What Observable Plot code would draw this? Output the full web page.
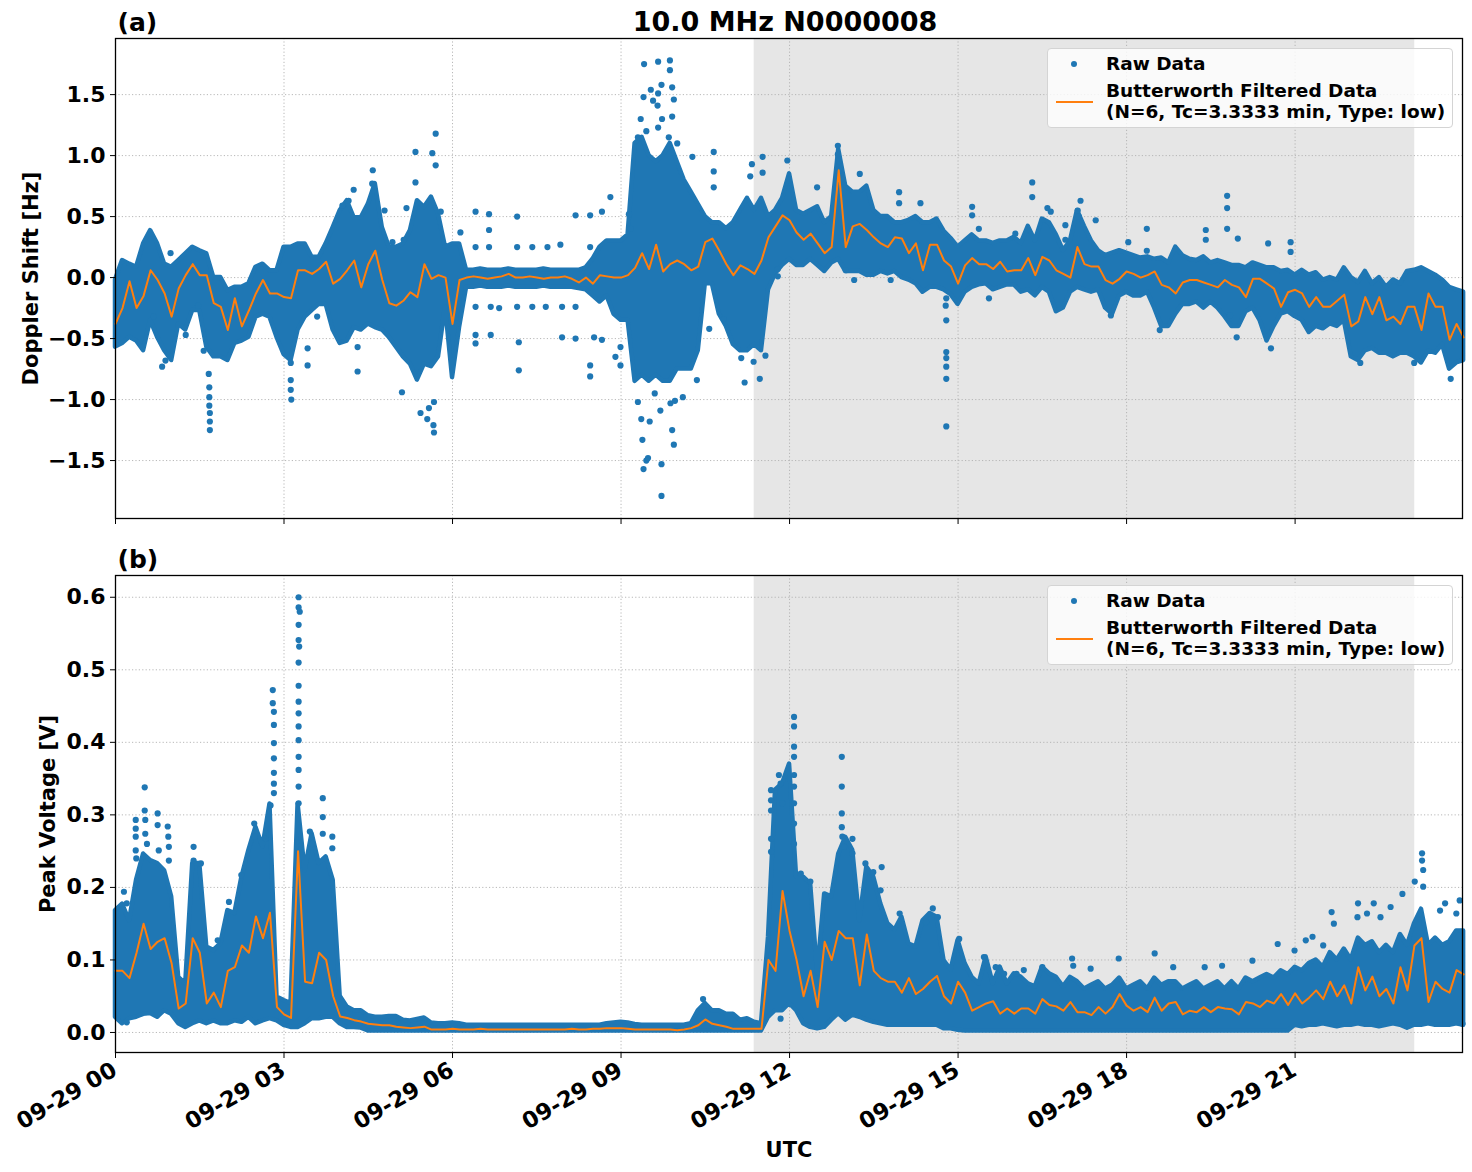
<!DOCTYPE html>
<html><head><meta charset="utf-8">
<script src="https://cdn.jsdelivr.net/npm/d3@7"></script>
<script src="https://cdn.jsdelivr.net/npm/@observablehq/plot@0.6"></script>
<style>
body{margin:0;background:#fff;font-family:"DejaVu Sans",sans-serif;}
#wrap{position:relative;width:1472px;height:1172px;overflow:hidden;}
#pa{position:absolute;left:0;top:0}
#pb{position:absolute;left:0;top:540px}
.legend{position:absolute;left:1047px;width:406px;height:80px;box-sizing:border-box;border:1px solid #d4d4d4;border-radius:4px;background:rgba(255,255,255,0.8);font-weight:bold;font-size:18.5px;color:#000;}
.legend span{position:absolute;left:58px;white-space:nowrap;line-height:21px;}
.legend .dot{position:absolute;left:23px;top:12px;width:6px;height:6px;border-radius:50%;background:#1f77b4;}
.legend .ln{position:absolute;left:8px;top:52px;width:37px;height:2px;background:#ff7f0e;}
</style></head>
<body><div id="wrap"><div id="pa"></div><div id="pb"></div>
<div class="legend" style="top:48px"><div class="dot"></div><span style="top:4px">Raw Data</span><div class="ln"></div><span style="top:31px">Butterworth Filtered Data</span><span style="top:52px">(N=6, Tc=3.3333 min, Type: low)</span></div>
<div class="legend" style="top:585px"><div class="dot"></div><span style="top:4px">Raw Data</span><div class="ln"></div><span style="top:31px">Butterworth Filtered Data</span><span style="top:52px">(N=6, Tc=3.3333 min, Type: low)</span></div>
</div>
<script>
// ---- time grid (hours since 09-29 00 UTC), every series sampled every 7.5 min ----
const STEP = 0.125;
const xTicks = [0, 3, 6, 9, 12, 15, 18, 21];
const xTickLabels = ["09-29 00","09-29 03","09-29 06","09-29 09","09-29 12","09-29 15","09-29 18","09-29 21"];
const shadeSpan = [11.37, 23.13];
const dopplerTicks = [-1.5, -1.0, -0.5, 0.0, 0.5, 1.0, 1.5];
const voltTicks = [0.0, 0.1, 0.2, 0.3, 0.4, 0.5, 0.6];

// ---- (a) Doppler shift [Hz] ----
const dopplerFiltered = [
-0.38,-0.25,-0.03,-0.25,-0.15,0.06,-0.02,-0.13,-0.32,-0.09,
0.02,0.11,0.02,0.02,-0.21,-0.24,-0.43,-0.17,-0.40,-0.27,
-0.13,-0.02,-0.13,-0.13,-0.16,-0.17,0.06,0.06,0.03,0.07,
0.13,-0.05,-0.01,0.06,0.14,-0.08,0.11,0.22,-0.02,-0.21,
-0.23,-0.19,-0.12,-0.16,0.11,-0.01,0.02,0.0,-0.38,-0.02,
0.0,0.01,0.0,-0.01,0.0,0.01,0.03,0.0,0.0,0.01,0.0,-0.01,0.0,0.0,0.01,-0.01,-0.04,0.0,-0.05,0.02,0.01,0.0,
0.0,0.02,0.08,0.20,0.07,0.27,0.05,0.11,
0.14,0.11,0.06,0.09,0.29,0.32,0.22,0.11,0.02,0.10,
0.07,0.03,0.14,0.33,0.42,0.51,0.47,0.37,0.31,0.36,
0.28,0.20,0.25,0.88,0.25,0.42,0.44,0.39,0.33,0.28,
0.25,0.33,0.32,0.20,0.28,0.06,0.27,0.27,0.14,0.09,
-0.05,0.10,0.16,0.11,0.11,0.07,0.13,0.05,0.06,0.06,
0.16,0.02,0.17,0.14,0.06,0.03,0.0,0.25,0.11,0.09,
0.09,-0.02,-0.05,-0.01,0.05,0.03,0.0,0.02,0.05,-0.06,
-0.08,-0.13,-0.04,-0.02,-0.02,-0.04,-0.06,-0.08,-0.02,-0.06,
-0.08,-0.16,-0.01,-0.01,-0.05,-0.09,-0.24,-0.12,-0.10,-0.13,
-0.24,-0.16,-0.24,-0.24,-0.19,-0.14,-0.40,-0.36,-0.16,-0.30,
-0.16,-0.35,-0.32,-0.38,-0.24,-0.24,-0.43,-0.13,-0.24,-0.24,
-0.51,-0.38,-0.49
];
const dopplerRawHigh = [
-0.02,0.14,0.11,0.085,0.276,0.385,0.276,0.11,0.085,0.14,
0.194,0.249,0.22,0.194,0.0,0.0,-0.107,-0.08,-0.08,-0.05,
0.085,0.11,0.057,0.057,0.249,0.249,0.276,0.276,0.167,0.167,
0.276,0.41,0.55,0.63,0.49,0.49,0.60,0.77,0.41,0.249,
0.249,0.276,0.385,0.63,0.576,0.66,0.52,0.249,0.276,0.276,
0.06,0.06,0.07,0.06,0.06,0.06,0.07,0.06,0.06,0.06,
0.06,0.07,0.06,0.06,0.06,0.06,0.06,0.08,0.15,0.25,
0.30,0.30,0.30,0.35,1.10,1.15,1.0,0.95,1.0,1.10,
0.95,0.80,0.70,0.60,0.50,0.45,0.45,0.40,0.45,0.55,
0.65,0.55,0.65,0.50,0.55,0.65,0.85,0.55,0.52,0.55,
0.58,0.45,0.50,1.05,0.75,0.70,0.70,0.75,0.55,0.50,
0.50,0.45,0.45,0.47,0.50,0.45,0.45,0.48,0.38,0.32,
0.25,0.30,0.35,0.30,0.30,0.28,0.30,0.30,0.33,0.28,
0.42,0.30,0.48,0.45,0.35,0.22,0.30,0.55,0.42,0.30,
0.22,0.18,0.20,0.22,0.20,0.18,0.16,0.17,0.15,0.16,
0.12,0.25,0.18,0.15,0.14,0.17,0.12,0.14,0.12,0.10,
0.10,0.08,0.12,0.10,0.08,0.08,0.05,0.06,0.02,0.06,
0.02,0.04,-0.02,0.0,-0.02,0.08,0.0,-0.04,0.05,-0.05,
0.0,-0.08,-0.02,-0.05,0.05,0.06,0.08,0.05,0.02,-0.02,
-0.08,-0.10,-0.12
];
const dopplerRawLow = [
-0.57,-0.54,-0.49,-0.52,-0.60,-0.35,-0.49,-0.60,-0.68,-0.38,
-0.43,-0.27,-0.27,-0.57,-0.65,-0.65,-0.68,-0.54,-0.52,-0.49,
-0.325,-0.30,-0.325,-0.49,-0.63,-0.68,-0.43,-0.325,-0.27,-0.22,
-0.22,-0.43,-0.54,-0.52,-0.41,-0.43,-0.38,-0.41,-0.43,-0.49,
-0.57,-0.65,-0.71,-0.84,-0.71,-0.73,-0.65,-0.24,-0.82,-0.41,
-0.08,-0.08,-0.07,-0.08,-0.08,-0.08,-0.07,-0.08,-0.08,-0.08,
-0.08,-0.07,-0.08,-0.08,-0.08,-0.08,-0.09,-0.10,-0.15,-0.20,
-0.15,-0.30,-0.35,-0.35,-0.85,-0.80,-0.85,-0.80,-0.85,-0.85,
-0.75,-0.75,-0.75,-0.60,-0.05,-0.05,-0.30,-0.40,-0.55,-0.60,
-0.60,-0.55,-0.60,-0.10,0.03,0.10,0.15,0.10,0.10,0.15,
0.10,0.05,0.12,0.15,0.05,0.05,0.05,0.02,0.02,0.05,
0.03,0.05,0.0,-0.02,-0.05,-0.12,-0.08,-0.08,-0.10,-0.14,
-0.22,-0.12,-0.08,-0.06,-0.05,-0.10,-0.08,-0.06,-0.06,-0.12,
-0.10,-0.15,-0.08,-0.12,-0.28,-0.25,-0.12,-0.08,-0.10,-0.12,
-0.10,-0.25,-0.30,-0.15,-0.12,-0.15,-0.15,-0.12,-0.25,-0.40,
-0.40,-0.30,-0.22,-0.22,-0.20,-0.25,-0.20,-0.25,-0.32,-0.40,
-0.40,-0.28,-0.25,-0.35,-0.52,-0.40,-0.30,-0.28,-0.32,-0.35,
-0.45,-0.40,-0.42,-0.38,-0.40,-0.35,-0.65,-0.68,-0.60,-0.58,
-0.62,-0.62,-0.65,-0.62,-0.62,-0.65,-0.70,-0.60,-0.62,-0.55,
-0.75,-0.70,-0.68
];
const dopplerRawSparse = [
[.83,-.73],[.89,-.68],[.98,.20],[.68,-.32],[1.25,-.47],[1.47,-.23],[1.57,-.60],[1.66,-.79],[1.67,-.98],[1.68,-1.11],[1.68,-1.25],[1.68,-1.18],[1.67,-1.05],[1.67,-.90],
[3.12,-.70],[3.12,-.84],[3.13,-1.0],[3.12,-.92],[3.42,-.58],[3.42,-.72],[3.59,-.32],[4.24,.72],[4.04,.59],[4.15,.63],[4.31,-.77],[4.31,-.57],[4.58,.88],[4.57,.77],[4.79,.55],[4.93,.29],[5.13,.31],[5.10,-.94],[5.18,.57],[5.34,1.03],[5.34,.78],[5.43,-1.11],[5.55,-1.16],[5.58,-1.07],[5.64,1.02],[5.66,-1.21],[5.67,-1.27],[5.70,1.18],[5.70,.92],[5.67,-1.02],[5.79,.54],
[6.14,.37],[6.08,-.38],[6.41,.54],[6.41,.25],[6.41,-.24],[6.41,-.47],[6.41,-.54],[6.65,.52],[6.65,.39],[6.65,.25],[6.68,-.24],[6.68,-.47],[6.83,-.25],[7.15,.50],[7.15,.25],[7.15,-.24],[7.18,-.53],[7.18,-.76],[7.42,.25],[7.42,-.24],[7.69,.25],[7.66,-.24],[7.92,.27],[7.95,-.24],[7.95,-.49],
[8.19,.51],[8.19,-.24],[8.19,-.50],[8.45,.51],[8.45,.25],[8.45,-.72],[8.45,-.81],[8.52,-.49],[8.66,.54],[8.66,-.51],[8.81,.66],[8.90,-.65],[8.99,-.72],[8.99,-.57],[9.14,.52],[9.17,.40],
[9.41,1.75],[9.66,1.77],[9.87,1.78],[9.87,1.70],[9.53,1.54],[9.66,1.51],[9.72,1.58],[9.91,1.56],[9.94,1.46],[9.40,1.48],[9.57,1.45],[9.65,1.41],[9.35,1.30],[9.73,1.30],[9.91,1.32],[9.66,1.23],[9.30,1.15],[9.45,1.20],[9.85,1.15],[10.0,1.10],
[9.30,-1.02],[9.38,-1.33],[9.40,-1.57],[9.45,-1.50],[9.36,-1.16],[9.51,-1.18],[9.48,-1.48],[9.72,-1.53],[9.72,-1.79],[9.91,-1.25],[9.94,-1.37],[9.88,-1.03],[9.70,-1.09],[9.96,-1.01],[10.10,-.98],[9.60,-.95],
[10.27,.99],[10.65,1.03],[10.65,.87],[10.65,.74],[10.35,-.84],[10.57,-.42],[10.83,-.34],[11.20,-.86],[11.33,.93],[11.30,.83],[11.52,.99],[11.52,.86],[11.47,-.83],[11.14,-.66],[11.36,-.69],[11.57,-.64],[11.79,.07],[11.79,.01],[11.96,.96],[12.49,.74],[13.00,.06],[13.15,-.02],[13.25,.85],[13.80,-.02],[13.95,.70],[13.95,.61],[14.33,.61],
[12.86,1.08],[12.86,1.01],[12.87,.95],[12.88,.86],[12.85,.78],
[14.79,-.17],[14.78,-.23],[14.79,-.35],[14.79,-.61],[14.79,-.66],[14.79,-.73],[14.79,-.83],[14.79,-1.22],[15.25,.58],[15.25,.51],[15.37,.40],[15.55,-.17],[16.02,.36],
[16.32,.78],[16.32,.66],[16.59,.57],[16.65,.54],[16.91,.43],[16.91,.31],[17.18,.63],[17.45,.47],[18.03,.29],[18.36,.40],[18.36,.22],[19.41,.39],[19.41,.31],[19.79,.67],[19.79,.57],[19.79,.40],[19.98,.32],[20.52,.28],[20.92,.29],[20.92,.21],[18.59,-.43],[19.84,-.31],[19.96,-.49],[20.57,-.58],[17.72,-.31],[22.16,-.70],[23.77,-.83],[23.12,-.70],[17.13,.55],[17.15,.50]
];

// ---- (b) Peak voltage [V] ----
const voltFiltered = [
.085,.085,.075,.11,.15,.115,.125,.13,.095,.033,
.04,.13,.11,.04,.055,.035,.085,.09,.12,.11,
.16,.13,.165,.035,.025,.02,.25,.07,.068,.11,
.10,.05,.022,.02,.017,.015,.012,.011,.01,.01,
.008,.007,.006,.007,.008,.004,.004,.004,.005,.004,
.004,.004,.005,.004,.004,.004,.004,.004,.004,.004,.004,.004,.004,.004,.004,.005,.004,.004,.005,.005,.006,.006,
.006,.005,.004,.004,.004,.004,.004,.004,
.003,.004,.006,.01,.018,.012,.01,.008,.005,.005,
.005,.005,.005,.10,.085,.195,.14,.10,.05,.085,
.035,.125,.10,.14,.13,.13,.065,.135,.085,.075,
.07,.07,.055,.075,.053,.06,.07,.078,.05,.04,
.07,.055,.03,.035,.04,.043,.026,.033,.026,.033,
.033,.026,.046,.038,.036,.03,.042,.028,.028,.024,
.035,.026,.035,.053,.037,.03,.035,.028,.048,.03,
.04,.042,.025,.03,.028,.035,.028,.035,.033,.032,
.025,.042,.04,.035,.044,.04,.053,.038,.054,.04,
.048,.058,.046,.07,.05,.065,.04,.09,.058,.077,
.05,.06,.04,.09,.058,.12,.13,.042,.07,.06,
.055,.086,.08
];
const voltRawHigh = [
.168,.177,.154,.21,.246,.237,.233,.223,.187,.076,
.067,.233,.233,.118,.113,.122,.168,.164,.214,.251,
.283,.256,.315,.049,.044,.04,.315,.223,.274,.233,
.242,.21,.05,.035,.03,.03,.023,.021,.021,.022,
.022,.017,.016,.018,.02,.013,.012,.012,.013,.012,
.01,.01,.01,.01,.01,.01,.01,.01,.01,.01,
.01,.01,.01,.01,.01,.01,.01,.01,.01,.01,
.012,.013,.014,.013,.011,.01,.01,.01,.01,.01,
.01,.01,.012,.03,.04,.03,.03,.025,.025,.017,
.019,.014,.012,.131,.334,.343,.37,.214,.214,.205,
.081,.191,.187,.246,.269,.251,.154,.228,.214,.177,
.15,.141,.159,.122,.118,.154,.164,.159,.099,.086,
.127,.095,.076,.067,.104,.067,.09,.067,.081,.076,
.067,.063,.09,.081,.076,.063,.076,.07,.06,.065,
.07,.06,.065,.075,.06,.065,.07,.06,.075,.065,
.07,.07,.06,.065,.07,.06,.065,.07,.06,.07,
.06,.075,.07,.075,.08,.075,.085,.08,.09,.085,
.095,.10,.09,.11,.10,.115,.10,.13,.12,.125,
.11,.12,.11,.135,.12,.15,.17,.12,.13,.12,
.125,.14,.14
];
const voltRawLow = [
.021,.012,.019,.021,.025,.026,.021,.03,.025,.012,
.007,.012,.016,.012,.016,.012,.012,.016,.014,.021,
.012,.016,.019,.016,.01,.007,.007,.012,.019,.019,
.021,.021,.012,.007,.007,.006,.002,.002,.002,.002,
.002,.002,.002,.002,.002,.002,.002,.002,.002,.002,
.002,.002,.002,.002,.002,.002,.002,.002,.002,.002,
.002,.002,.002,.002,.002,.002,.002,.002,.002,.002,
.002,.002,.002,.002,.002,.002,.002,.002,.002,.002,
.002,.002,.002,.002,.002,.002,.002,.002,.002,.002,
.002,.002,.002,.021,.03,.03,.04,.03,.012,.007,
.005,.007,.017,.026,.017,.024,.021,.017,.014,.012,
.01,.01,.01,.01,.01,.01,.01,.01,.005,.005,
.003,.002,.002,.002,.002,.002,.002,.002,.002,.002,
.002,.002,.002,.002,.002,.002,.002,.002,.002,.002,
.002,.002,.002,.002,.002,.002,.002,.002,.002,.002,
.002,.002,.002,.002,.002,.002,.002,.002,.002,.002,
.002,.002,.002,.002,.002,.002,.002,.002,.01,.008,
.01,.01,.012,.01,.008,.01,.01,.012,.01,.01,
.008,.01,.012,.01,.006,.01,.01,.012,.01,.01,
.01,.012,.01
];
const voltRawSparse = [
[.15,.194],[.20,.178],[.36,.293],[.36,.281],[.36,.27],[.36,.251],[.37,.24],[.52,.338],[.52,.306],[.53,.293],[.53,.274],[.56,.26],[.75,.302],[.75,.286],[.77,.251],[.93,.284],[.94,.27],[.95,.256],[.95,.237],[1.39,.256],[1.39,.237],[1.52,.233],[1.82,.127],[2.02,.18],[2.24,.217],[2.47,.288],[2.47,.27],[2.67,.267],[2.76,.313],
[2.80,.472],[2.80,.454],[2.82,.442],[2.82,.424],[2.82,.399],[2.82,.378],[2.82,.358],[2.82,.343],[2.82,.33],
[3.26,.60],[3.26,.586],[3.28,.58],[3.26,.562],[3.26,.541],[3.27,.532],[3.26,.51],[3.26,.478],[3.26,.456],[3.26,.44],[3.26,.422],[3.26,.403],[3.26,.38],[3.26,.362],[3.26,.339],[3.26,.316],
[3.46,.277],[3.50,.26],[3.69,.323],[3.69,.297],[3.69,.274],[3.86,.27],[3.86,.254],[.20,.014],
[10.46,.046],[11.67,.334],[11.67,.32],[11.67,.306],[11.67,.267],[11.67,.249],[11.81,.355],[11.84,.343],[11.87,.316],[12.08,.435],[12.08,.422],[12.08,.394],[12.08,.38],[12.08,.355],[12.08,.339],[12.08,.316],[12.08,.288],[12.08,.26],[12.20,.219],[12.37,.208],[12.93,.38],[12.93,.339],[12.93,.302],[12.93,.283],[12.94,.27],[12.97,.256],[13.12,.267],[13.12,.247],[13.35,.233],[13.49,.221],[13.64,.228],[13.62,.196],[13.96,.164],[14.55,.171],[14.64,.159],[14.43,.152],[15.02,.129],[15.46,.104],[15.67,.09],[15.82,.081],[16.04,.081],[11.84,.019],
[16.17,.086],[16.50,.09],[17.03,.102],[17.05,.092],[17.36,.088],[17.86,.102],[18.50,.109],[18.83,.09],[19.39,.09],[19.70,.092],[20.24,.099],[20.69,.122],[20.99,.113],[21.19,.127],[21.31,.132],[21.50,.12],[21.65,.166],[21.69,.15],[22.12,.178],[22.11,.159],[22.40,.178],[22.28,.164],[22.52,.159],[22.70,.173],[22.91,.191],[23.13,.208],[23.26,.247],[23.26,.237],[23.28,.224],[23.28,.201],[23.67,.178],[23.58,.168],[23.87,.164],[23.93,.182],[23.03,.01],[23.98,.012]
];

const BLUE = "#1f77b4", ORANGE = "#ff7f0e";
const gridStyle = {stroke: "#b0b0b0", strokeOpacity: 1, strokeWidth: 0.9, strokeDasharray: "1.2,2.2"};
const fmtNum = d => d.toFixed(1).replace("-", "\u2212");

function buildPanel(o) {
  const filt = o.filtered.map((v, i) => ({t: i * STEP, v}));
  const env = o.high.map((h, i) => ({t: i * STEP, hi: h, lo: o.low[i]}));
  const marks = [
    Plot.rect([shadeSpan], {x1: d => d[0], x2: d => d[1], fill: "#e6e6e6"}),
    Plot.gridX(xTicks, gridStyle),
    Plot.gridY(o.yTicks, gridStyle),
    Plot.areaY(env, {x: "t", y1: "lo", y2: "hi", fill: BLUE, stroke: BLUE, strokeWidth: 4.5, strokeLinejoin: "round"}),
    Plot.dot(o.sparse, {x: d => d[0], y: d => d[1], r: 3.1, fill: BLUE}),
    Plot.line(filt, {x: "t", y: "v", stroke: ORANGE, strokeWidth: 2}),
    Plot.frame({stroke: "#000", strokeWidth: 1.3}),
    Plot.axisY(o.yTicks, {tickSize: 5, tickPadding: 5, tickFormat: fmtNum, label: null, fontSize: 22, fontWeight: "bold"}),
    Plot.axisX(xTicks, {tickSize: 6, tickFormat: () => "", label: null}),
    Plot.text([o.tag], {frameAnchor: "top-left", dx: 2, dy: -8, textAnchor: "start", lineAnchor: "bottom", fontSize: 25, fontWeight: "bold"}),
    Plot.text([o.ylabel], {frameAnchor: "left", dx: o.ylabelDx, rotate: -90, textAnchor: "middle", lineAnchor: "middle", fontSize: 21, fontWeight: "bold"})
  ];
  if (o.title) marks.push(Plot.text([o.title], {frameAnchor: "top", dx: -4, dy: -8, textAnchor: "middle", lineAnchor: "bottom", fontSize: 27, fontWeight: "bold"}));
  if (o.xLabels) {
    marks.push(Plot.text(xTicks, {x: d => d, frameAnchor: "bottom", text: (d, i) => xTickLabels[i], rotate: -30, textAnchor: "end", lineAnchor: "top", dx: -5, dy: 8, fontSize: 22.5, fontWeight: "bold"}));
    marks.push(Plot.text(["UTC"], {frameAnchor: "bottom", dy: 98, textAnchor: "middle", lineAnchor: "middle", fontSize: 21, fontWeight: "bold"}));
  }
  return Plot.plot({
    width: 1472, height: o.height,
    marginLeft: 115, marginRight: 10, marginTop: o.marginTop, marginBottom: o.marginBottom,
    x: {domain: [0, 23.98]},
    y: {domain: o.yDomain},
    style: {fontFamily: "DejaVu Sans", fontWeight: "bold", fontSize: "22px", color: "#000", background: "transparent", overflow: "visible"},
    marks
  });
}

document.getElementById("pa").append(buildPanel({
  filtered: dopplerFiltered, high: dopplerRawHigh, low: dopplerRawLow, sparse: dopplerRawSparse,
  yDomain: [-1.975, 1.96], yTicks: dopplerTicks, height: 528, marginTop: 38, marginBottom: 10,
  tag: "(a)", title: "10.0 MHz N0000008", ylabel: "Doppler Shift [Hz]", ylabelDx: -84, xLabels: false
}));
document.getElementById("pb").append(buildPanel({
  filtered: voltFiltered, high: voltRawHigh, low: voltRawLow, sparse: voltRawSparse,
  yDomain: [-0.0276, 0.630], yTicks: voltTicks, height: 632, marginTop: 35, marginBottom: 120,
  tag: "(b)", title: null, ylabel: "Peak Voltage [V]", ylabelDx: -67, xLabels: true
}));
</script></body></html>
